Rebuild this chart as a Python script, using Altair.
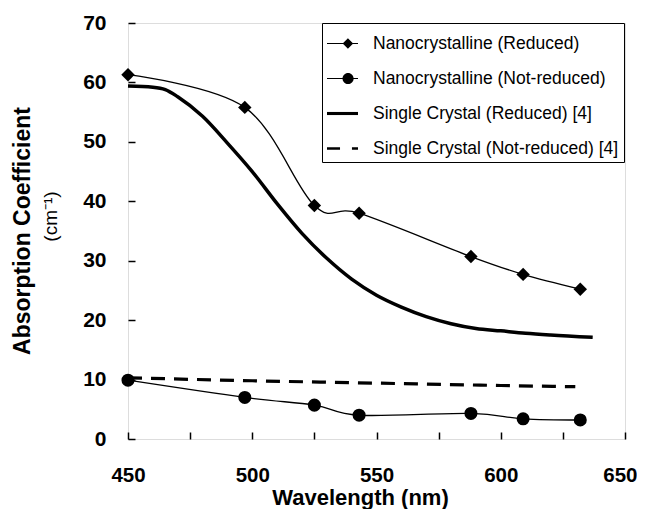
import altair as alt
import pandas as pd

FONT = "Liberation Sans"

series_names = [
    "Nanocrystalline (Reduced)",
    "Nanocrystalline (Not-reduced)",
    "Single Crystal (Reduced) [4]",
    "Single Crystal (Not-reduced) [4]",
]

# Nanocrystalline samples (markers)
nano_wl = [450, 497, 525, 543, 588, 609, 632]
nano_reduced = [61.3, 55.8, 39.3, 38.0, 30.7, 27.7, 25.2]
nano_not_reduced = [9.9, 7.0, 5.7, 4.0, 4.3, 3.4, 3.2]

# Single crystal curves
sc_red_wl = [450, 460, 465, 470, 480, 490, 500, 510, 520, 530, 540, 550, 560, 570, 580, 590, 600, 610, 620, 637]
sc_red = [59.4, 59.2, 58.8, 57.6, 54.3, 49.8, 45.0, 39.6, 34.6, 30.4, 26.9, 24.2, 22.2, 20.6, 19.4, 18.6, 18.2, 17.8, 17.5, 17.1]
sc_not_wl = [450, 500, 550, 600, 630]
sc_not = [10.3, 9.8, 9.4, 9.0, 8.8]

x_ticks = [450, 475, 500, 525, 550, 575, 600, 625, 650]
x_labels = [450, 500, 550, 600, 650]
y_ticks = [0, 10, 20, 30, 40, 50, 60, 70]

# legend symbol paths (unit square -1..1)
legend_paths = [
    "M-1,-0.04L1,-0.04L1,0.04L-1,0.04Z M0.35,-0.34L0.69,0L0.35,0.34L0.01,0Z",
    "M-1,-0.04L1,-0.04L1,0.04L-1,0.04Z M0.0,0A0.36,0.36 0 1,1 0.72,0A0.36,0.36 0 1,1 0.0,0Z",
    "M-1,-0.1L1,-0.1L1,0.1L-1,0.1Z",
    "M-1,-0.08L-0.16,-0.08L-0.16,0.08L-1,0.08Z M0.61,-0.08L1,-0.08L1,0.08L0.61,0.08Z",
]

nano_df = pd.DataFrame({
    "wavelength": nano_wl * 2,
    "value": nano_reduced + nano_not_reduced,
    "series": [series_names[0]] * len(nano_wl) + [series_names[1]] * len(nano_wl),
})
sc_df = pd.DataFrame({
    "wavelength": sc_red_wl + sc_not_wl,
    "value": sc_red + sc_not,
    "series": [series_names[2]] * len(sc_red_wl) + [series_names[3]] * len(sc_not_wl),
})
all_df = pd.concat([nano_df, sc_df], ignore_index=True)

label_list = ",".join(str(v) for v in x_labels)
last_label = x_labels[-1]

x_enc = alt.X(
    "wavelength:Q",
    scale=alt.Scale(domain=[450, 650], nice=False, zero=False),
    axis=alt.Axis(
        values=x_ticks,
        labelExpr=f"indexof([{label_list}], datum.value) >= 0 ? datum.label : ''",
        title="Wavelength (nm)",
        offset=-7, tickSize=7, tickWidth=1.5, tickColor="black",
        domain=False, grid=False, labelFlush=False, labelOverlap=False,
        labelAlign=alt.condition(f"datum.value == {last_label}", alt.value("right"), alt.value("center")),
        labelOffset=alt.condition(f"datum.value == {last_label}", alt.value(12), alt.value(0)),
        labelPadding=26, labelFont=FONT, labelFontSize=20.5, labelFontWeight="bold",
        labelColor="black",
        titleFont=FONT, titleFontSize=22, titleFontWeight="bold", titleColor="black",
        titleX=232, titleY=72, titleAlign="center", titleBaseline="alphabetic",
    ),
)
y_enc = alt.Y(
    "value:Q",
    scale=alt.Scale(domain=[0, 70], nice=False),
    axis=alt.Axis(
        values=y_ticks,
        title="(cm⁻¹)",
        offset=-7, tickSize=7, tickWidth=1.5, tickColor="black",
        domain=False, grid=False, labelFlush=False, labelOverlap=False,
        labelPadding=22, labelFont=FONT, labelFontSize=21, labelFontWeight="bold",
        labelColor="black",
        titleFont=FONT, titleFontSize=19, titleFontWeight="normal", titleColor="black",
        titleX=-85, titleY=193, titleAngle=270, titleAlign="center", titleBaseline="middle",
    ),
)

base_nano = alt.Chart(nano_df)
red_line = base_nano.transform_filter(alt.datum.series == series_names[0]).mark_line(
    color="black", strokeWidth=1.3, interpolate="cardinal"
).encode(x=x_enc, y=y_enc)
red_pts = base_nano.transform_filter(alt.datum.series == series_names[0]).mark_point(
    shape="diamond", filled=True, color="black", size=180, opacity=1
).encode(x="wavelength:Q", y="value:Q")
not_line = base_nano.transform_filter(alt.datum.series == series_names[1]).mark_line(
    color="black", strokeWidth=1.3, interpolate="cardinal"
).encode(x="wavelength:Q", y="value:Q")
not_pts = base_nano.transform_filter(alt.datum.series == series_names[1]).mark_point(
    shape="circle", filled=True, color="black", size=170, opacity=1
).encode(x="wavelength:Q", y="value:Q")

base_sc = alt.Chart(sc_df)
sc_red_line = base_sc.transform_filter(alt.datum.series == series_names[2]).mark_line(
    color="black", strokeWidth=3.5, interpolate="monotone"
).encode(x="wavelength:Q", y="value:Q")
sc_not_line = base_sc.transform_filter(alt.datum.series == series_names[3]).mark_line(
    color="black", strokeWidth=3.2, strokeDash=[14, 9], interpolate="monotone"
).encode(x="wavelength:Q", y="value:Q")

legend_layer = alt.Chart(all_df).mark_point(opacity=0, filled=True, color="black").encode(
    x="wavelength:Q",
    y="value:Q",
    shape=alt.Shape(
        "series:N",
        scale=alt.Scale(domain=series_names, range=legend_paths),
        sort=series_names,
        legend=alt.Legend(
            title=None, orient="none", legendX=194, legendY=0,
            symbolSize=961, symbolFillColor="black", symbolStrokeColor="black",
            symbolStrokeWidth=0, symbolOpacity=1,
            labelFont=FONT, labelFontSize=17.5, labelColor="black", labelOffset=15,
            labelLimit=400,
            rowPadding=11, padding=5,
            strokeColor="black", fillColor="white",
        ),
    ),
)

chart = alt.layer(
    sc_not_line, sc_red_line, red_line, not_line, red_pts, not_pts, legend_layer
).properties(
    width=497,
    height=416,
    title=alt.TitleParams(
        "Absorption Coefficient", orient="left", anchor="middle", frame="group",
        font=FONT, fontSize=23, fontWeight="bold", color="black", offset=6,
    ),
    autosize=alt.AutoSizeParams(type="none"),
    padding={"left": 120, "top": 15, "right": 12, "bottom": 70},
).configure_view(
    stroke="black", strokeWidth=2
).configure_legend(
    strokeWidth=1.5
).configure(background="white")

chart.save("out.html", embed_options={"renderer": "svg", "actions": False})
